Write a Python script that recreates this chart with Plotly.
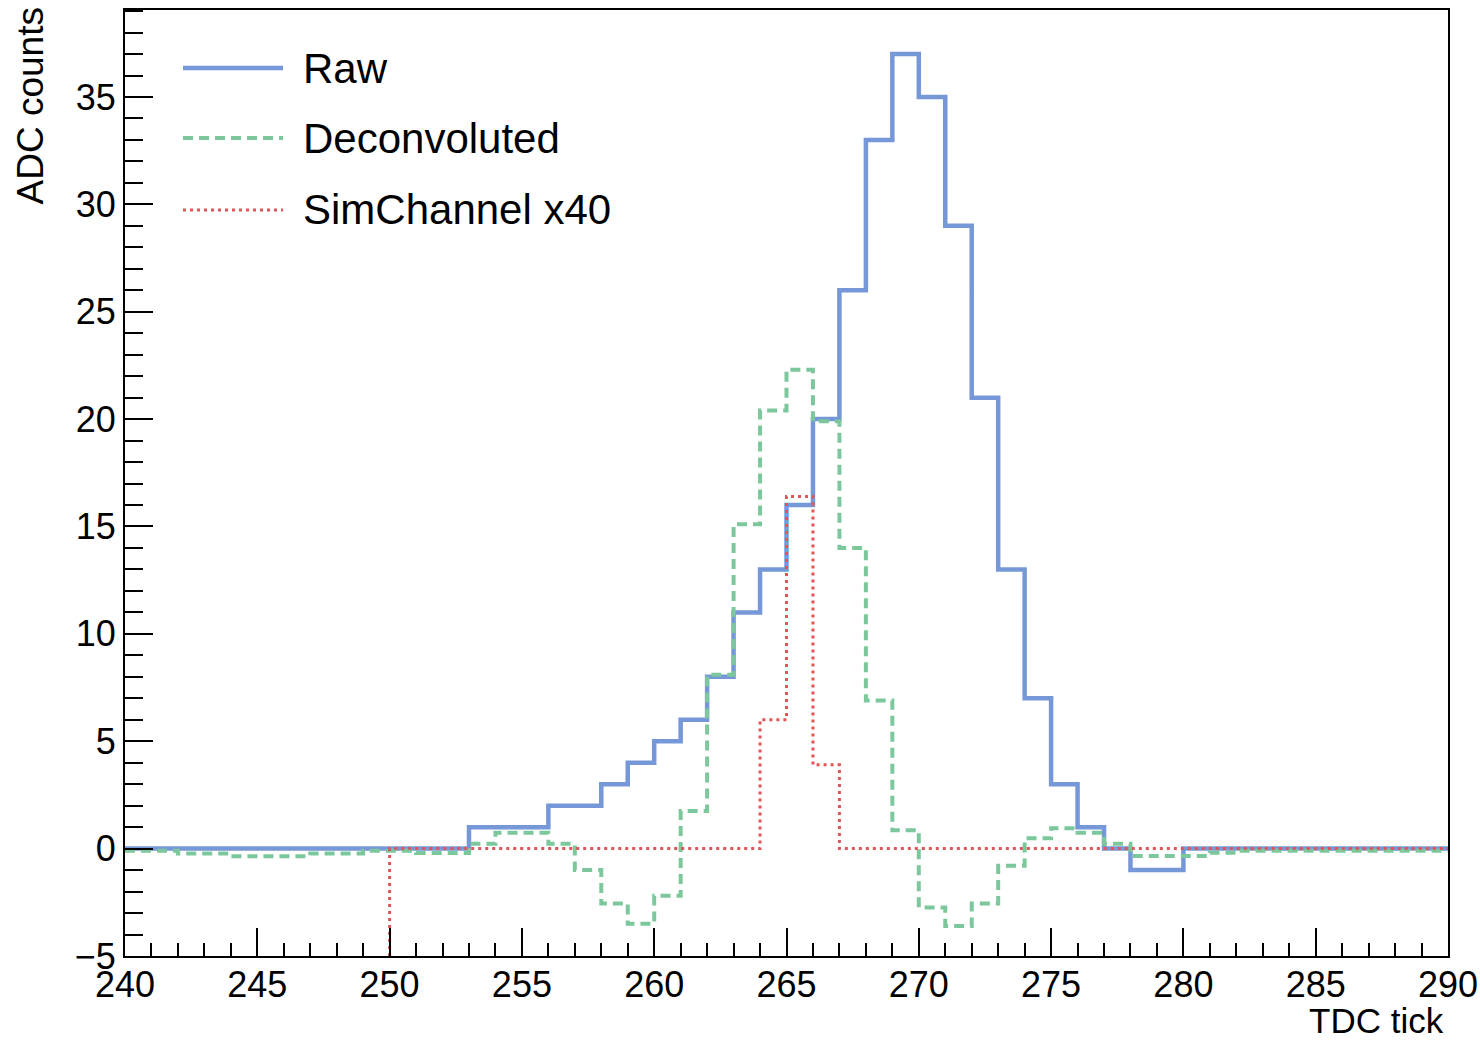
import plotly.graph_objects as go

# ---- data (one value per 1-tick bin) ----
raw_start = 240
raw_values = [0, 0, 0, 0, 0, 0, 0, 0, 0, 0, 0, 0, 0,
              1, 1, 1, 2, 2, 3, 4, 5, 6, 8, 11, 13, 16, 20, 26, 33, 37,
              35, 29, 21, 13, 7, 3, 1, 0, -1, -1,
              0, 0, 0, 0, 0, 0, 0, 0, 0, 0]

deconv_start = 240
deconv_values = [-0.1, -0.1, -0.23, -0.23, -0.36, -0.36, -0.36, -0.23, -0.23, -0.1,
                 -0.1, -0.2, -0.2, 0.23, 0.74, 0.74, 0.23, -1.0, -2.55, -3.5,
                 -2.2, 1.75, 8.1, 15.1, 20.4, 22.3, 19.9, 14.0, 6.9, 0.85,
                 -2.74, -3.6, -2.56, -0.8, 0.48, 0.95, 0.74, 0.23, -0.34, -0.34,
                 -0.34, -0.19, -0.1, -0.1, -0.1, -0.1, -0.1, -0.1, -0.1, -0.1]

sim_start = 250
sim_values = [0, 0, 0, 0, 0, 0, 0, 0, 0, 0, 0, 0, 0, 0,
              6.0, 16.4, 3.9,
              0, 0, 0, 0, 0, 0, 0, 0, 0, 0, 0, 0, 0, 0, 0, 0, 0, 0, 0, 0, 0, 0, 0]

series_names = ["Raw", "Deconvoluted", "SimChannel x40"]
x_ticks = list(range(240, 291, 5))
y_ticks = list(range(-5, 36, 5))
x_range = [240, 290]
y_range = [-5, 39.05]

BLUE = "#7698d8"
GREEN = "#7cc89c"
RED = "#e05558"
FONT = "Liberation Sans, Arial, Helvetica, sans-serif"


def step_xy(start, values, from_floor=False):
    """Histogram outline: bin edges with the last value repeated (hv steps)."""
    edges = [start + i for i in range(len(values) + 1)]
    ys = list(values) + [values[-1]]
    if from_floor:
        edges = [start] + edges
        ys = [y_range[0]] + ys
    return edges, ys


fig = go.Figure()

rx, ry = step_xy(raw_start, raw_values)
fig.add_trace(go.Scatter(x=rx, y=ry, mode="lines", line_shape="hv", name=series_names[0],
                         line=dict(color=BLUE, width=4.5)))

dx, dy = step_xy(deconv_start, deconv_values)
fig.add_trace(go.Scatter(x=dx, y=dy, mode="lines", line_shape="hv", name=series_names[1],
                         line=dict(color=GREEN, width=4, dash="10px,6px")))

sx, sy = step_xy(sim_start, sim_values, from_floor=True)
fig.add_trace(go.Scatter(x=sx, y=sy, mode="lines", line_shape="hv", name=series_names[2],
                         line=dict(color=RED, width=3, dash="3px,4px")))

# ---- layout ----
W, H = 1480, 1041
ML, MR, MT, MB = 125, 32, 10, 85
plot_w = W - ML - MR
plot_h = H - MT - MB


def px_to_paper(px, py):
    return (px - ML) / plot_w, (H - MB - py) / plot_h


axis_common = dict(
    showgrid=False, zeroline=False, showline=True, linecolor="black", linewidth=2,
    mirror=True, ticks="inside", tickcolor="black", tickwidth=2, ticklen=28,
    tickfont=dict(family=FONT, size=36, color="black"),
    automargin=False, ticklabeloverflow="allow",
)

fig.update_layout(
    width=W, height=H, autosize=False,
    margin=dict(l=ML, r=MR, t=MT, b=MB, pad=0),
    plot_bgcolor="white", paper_bgcolor="white",
    showlegend=False,
    font=dict(family=FONT, color="black"),
    xaxis=dict(range=x_range, tickvals=x_ticks, ticklabelstandoff=-4,
               minor=dict(dtick=1, ticks="inside", ticklen=13, tickwidth=2, tickcolor="black"),
               **axis_common),
    yaxis=dict(range=y_range, tickvals=y_ticks,
               minor=dict(dtick=1, ticks="inside", ticklen=18, tickwidth=2, tickcolor="black"),
               **axis_common),
)

# axis titles
tx, ty = px_to_paper(1445, 1041)
fig.add_annotation(text="TDC tick", xref="paper", yref="paper", x=tx, y=ty,
                   xanchor="right", yanchor="bottom", showarrow=False, borderpad=0,
                   font=dict(family=FONT, size=35, color="black"))
ax, ay = px_to_paper(30, 6)
fig.add_annotation(text="ADC counts", xref="paper", yref="paper", x=ax, y=ay,
                   xanchor="center", yanchor="top", textangle=-90, showarrow=False,
                   font=dict(family=FONT, size=37, color="black"))

# legend (drawn in paper space so the line samples keep their long length)
legend_rows = [(68, dict(color=BLUE, width=4.5)),
               (138, dict(color=GREEN, width=4, dash="10px,6px")),
               (210, dict(color=RED, width=3, dash="3px,4px"))]
for name, (row_y, style) in zip(series_names, legend_rows):
    x0, y0 = px_to_paper(183, row_y)
    x1, _ = px_to_paper(283, row_y)
    fig.add_shape(type="line", xref="paper", yref="paper", x0=x0, x1=x1, y0=y0, y1=y0,
                  line=style)
    lx, _ = px_to_paper(301, row_y)
    fig.add_annotation(text=name, xref="paper", yref="paper", x=lx, y=y0,
                       xanchor="left", yanchor="middle", showarrow=False,
                       font=dict(family=FONT, size=42, color="black"))

fig.write_html("out.html")
